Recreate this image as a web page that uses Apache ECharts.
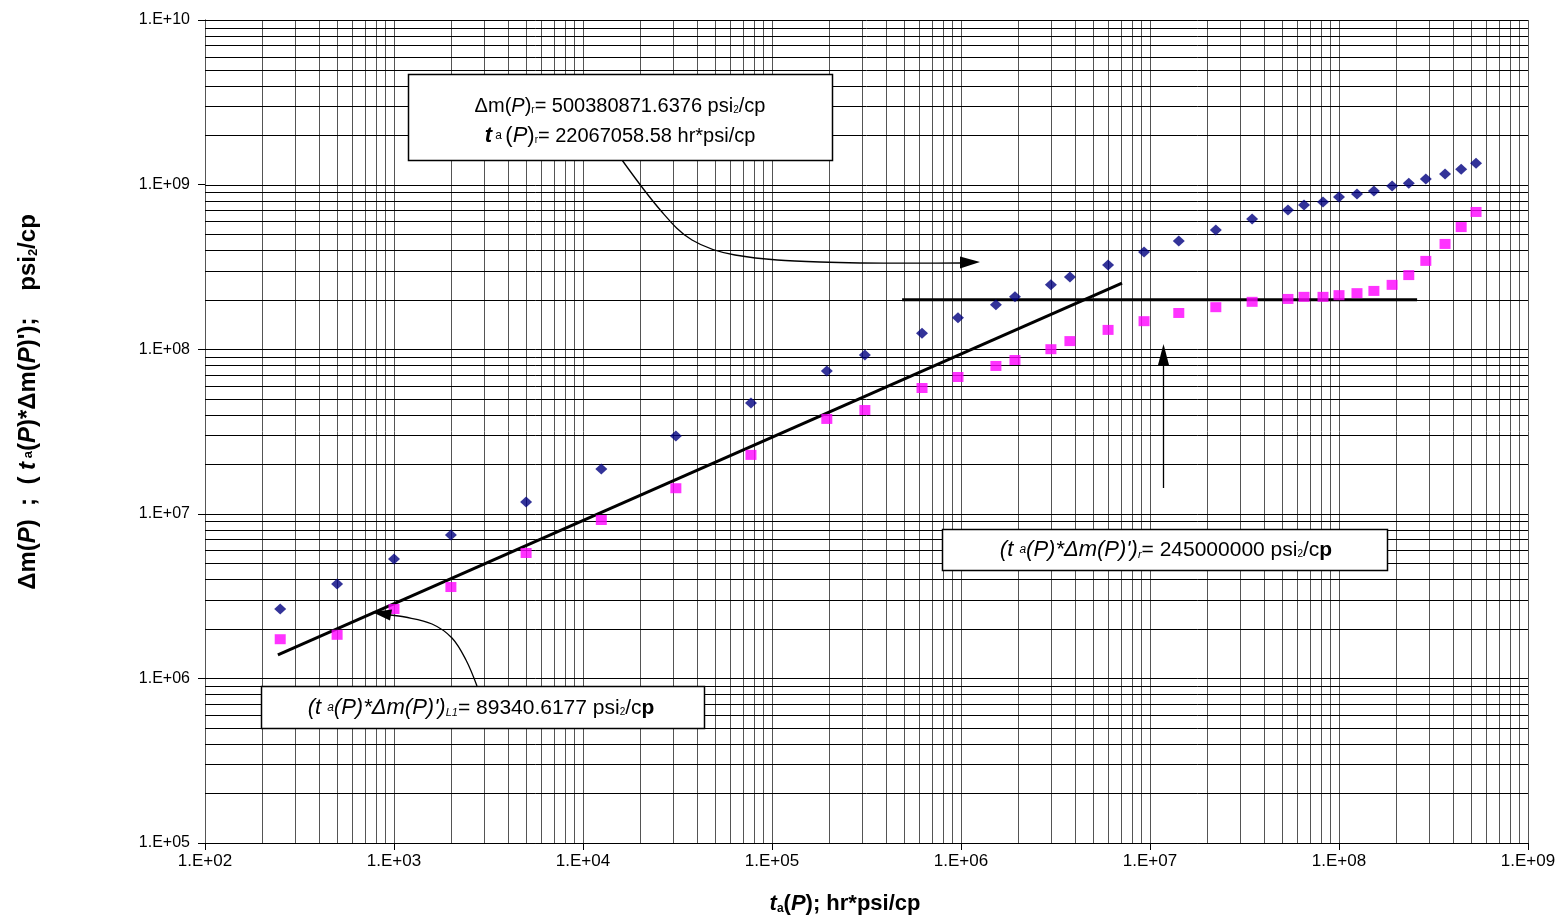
<!DOCTYPE html>
<html>
<head>
<meta charset="utf-8">
<script src="https://cdn.jsdelivr.net/npm/echarts@6/dist/echarts.min.js"></script>
<style>
html,body{margin:0;padding:0;background:#fff;}
#c{width:1568px;height:924px;}
</style>
</head>
<body>
<div id="c"></div>
<script>
// ---- data ----
const ta = [250,500,1000,2000,5000,12500,31000,77400,195000,310000,622000,964000,1.53e6,1.93e6,2.99e6,3.77e6,6.0e6,9.3e6,1.42e7,2.23e7,3.47e7,5.37e7,6.53e7,8.23e7,1.0e8,1.245e8,1.53e8,1.91e8,2.34e8,2.88e8,3.64e8,4.43e8,5.31e8];
const dmP = [2.64e6,3.74e6,5.31e6,7.43e6,1.18e7,1.87e7,2.97e7,4.71e7,7.38e7,9.23e7,1.25e8,1.55e8,1.86e8,2.08e8,2.46e8,2.75e8,3.25e8,3.90e8,4.54e8,5.30e8,6.18e8,7.01e8,7.52e8,7.84e8,8.41e8,8.77e8,9.15e8,9.82e8,1.02e9,1.08e9,1.16e9,1.24e9,1.35e9];
const deriv = [1.73e6,1.84e6,2.64e6,3.59e6,5.78e6,9.17e6,1.43e7,2.28e7,3.77e7,4.27e7,5.81e7,6.78e7,7.91e7,8.60e7,1.00e8,1.12e8,1.31e8,1.48e8,1.66e8,1.80e8,1.94e8,2.02e8,2.08e8,2.08e8,2.13e8,2.19e8,2.26e8,2.46e8,2.82e8,3.44e8,4.36e8,5.52e8,6.82e8];
const slopeLineX = [243, 7.11e6];
const slopeLineY = [1.39e6, 2.52e8];
const radialLineX = [4.88e5, 2.59e8];
const radialLineY = [2.0e8, 2.0e8];
const X_MIN = 1e2, X_MAX = 1e9, Y_MIN = 1e5, Y_MAX = 1e10;

// gridline values (decades with 2..9 subdivisions)
function logGrid(lo, hi){
  const out = [];
  for (let e = Math.round(Math.log10(lo)); e < Math.round(Math.log10(hi)); e++){
    for (let m = 1; m <= 9; m++) out.push(m * Math.pow(10, e));
  }
  out.push(hi);
  return out;
}
const xGrid = logGrid(X_MIN, X_MAX);
const yGrid = logGrid(Y_MIN, Y_MAX);

const FONT = 'Liberation Sans, Arial, sans-serif';
function expLabel(v){
  const e = Math.round(Math.log10(v));
  return '1.E+' + (e < 10 ? '0' + e : e);
}

function gridSeries(vals, vertical, color){
  return {
    type: 'custom', silent: true, z: 1, clip: false,
    data: vals.map(v => vertical ? [v, Y_MIN] : [X_MIN, v]),
    renderItem: function(params, api){
      const v = api.value(vertical ? 0 : 1);
      const a = vertical ? api.coord([v, Y_MIN]) : api.coord([X_MIN, v]);
      const b = vertical ? api.coord([v, Y_MAX]) : api.coord([X_MAX, v]);
      let x1=a[0], y1=a[1], x2=b[0], y2=b[1];
      if (vertical){ x1 = x2 = Math.round(x1) + 0.5; }
      else { y1 = y2 = Math.round(y1) + 0.5; }
      return { type: 'line', shape: {x1, y1, x2, y2}, style: {stroke: color, lineWidth: 1} };
    }
  };
}

const chart = echarts.init(document.getElementById('c'));
const option = {
  animation: false,
  backgroundColor: '#fff',
  grid: { left: 205, right: 40, top: 20, bottom: 81, containLabel: false },
  xAxis: {
    type: 'log', logBase: 10, min: X_MIN, max: X_MAX, splitNumber: 7,
    axisLine: { show: true, lineStyle: { color: '#000', width: 1 } },
    axisTick: { show: true, inside: false, length: 7, lineStyle: { color: '#000' } },
    axisLabel: { formatter: expLabel, color: '#000', fontFamily: FONT, fontSize: 17, margin: 10 },
    splitLine: { show: false }, minorTick: { show: false }
  },
  yAxis: {
    type: 'log', logBase: 10, min: Y_MIN, max: Y_MAX, splitNumber: 5,
    axisLine: { show: true, lineStyle: { color: '#000', width: 1 } },
    axisTick: { show: true, inside: false, length: 7, lineStyle: { color: '#000' } },
    axisLabel: { formatter: expLabel, color: '#000', fontFamily: FONT, fontSize: 16, margin: 15 },
    splitLine: { show: false }
  },
  series: [
    gridSeries(xGrid, true, '#555'),
    gridSeries(yGrid, false, '#000'),
    {
      type: 'line', z: 3, silent: true, symbol: 'none',
      data: slopeLineX.map((x, i) => [x, slopeLineY[i]]),
      lineStyle: { color: '#000', width: 3 }
    },
    {
      type: 'line', z: 3, silent: true, symbol: 'none',
      data: radialLineX.map((x, i) => [x, radialLineY[i]]),
      lineStyle: { color: '#000', width: 3 }
    },
    {
      name: 'dm(P)', type: 'scatter', z: 4, symbol: 'diamond', symbolSize: [12, 11],
      itemStyle: { color: '#000080' },
      data: ta.map((x, i) => [x, dmP[i]])
    },
    {
      name: 'derivative', type: 'scatter', z: 4, symbol: 'rect', symbolSize: [11, 10],
      itemStyle: { color: '#FF00FF' },
      data: ta.map((x, i) => [x, deriv[i]])
    }
  ]
};
chart.setOption(option);

// ---- annotations ----
const base = { fontFamily: FONT, fill: '#000' };
function rs(size, extra){ return Object.assign({}, base, { fontSize: size }, extra || {}); }

const box1Rich = {
  n: rs(20, {lineHeight: 30}), i: rs(20, {fontStyle: 'italic', lineHeight: 30}),
  bi: rs(22, {fontStyle: 'italic', fontWeight: 'bold', lineHeight: 30}),
  s: rs(10, {lineHeight: 12, padding: [9, 0, 0, 0]}),
  a: rs(12, {lineHeight: 30}), p: rs(22, {lineHeight: 30}), pi: rs(22, {fontStyle: 'italic', lineHeight: 30})
};
const box2Rich = {
  n: rs(21), i: rs(22, {fontStyle: 'italic'}),
  si: rs(12, {fontStyle: 'italic'}),
  sub: rs(11, {fontStyle: 'italic', lineHeight: 12, padding: [10, 0, 0, 0]}),
  s: rs(10, {lineHeight: 12, padding: [9, 0, 0, 0]}),
  b: rs(21, {fontWeight: 'bold'})
};
const titleRich = {
  b: rs(22, {fontWeight: 'bold'}),
  bi: rs(22, {fontWeight: 'bold', fontStyle: 'italic'}),
  s: rs(12, {fontWeight: 'bold'}),
  sb: rs(12, {fontWeight: 'bold', lineHeight: 13, padding: [9, 0, 0, 0]})
};
const yTitleRich = {
  b: rs(24, {fontWeight: 'bold'}),
  bi: rs(24, {fontWeight: 'bold', fontStyle: 'italic'}),
  s: rs(13, {fontWeight: 'bold'}),
  sb: rs(13, {fontWeight: 'bold', lineHeight: 14, padding: [10, 0, 0, 0]})
};

function box(x, y, w, h){
  return { type: 'rect', z: 20, shape: { x: x + 0.5, y: y + 0.5, width: w, height: h },
    style: { fill: '#fff', stroke: '#000', lineWidth: 1.5 } };
}

const graphics = [
  // box 1
  box(408, 74, 424, 86),
  { type: 'text', z: 21, x: 620, y: 121, style: {
      text: '{n|Δm(}{i|P}{n|)}{s|r}{n|= 500380871.6376 psi}{s|2}{n|/cp}\n{bi|t}{a| a }{p|(}{pi|P}{p|)}{s|r}{n|= 22067058.58 hr*psi/cp}',
      rich: box1Rich, align: 'center', verticalAlign: 'middle', fontFamily: FONT, fill: '#000' } },
  // arrow 1 (to Δm(P)r)
  { type: 'polyline', z: 19, shape: { points: [[622,160],[662,212],[692,240],[735,255],[820,262],[962,263]], smooth: 0.35 },
    style: { stroke: '#000', lineWidth: 1.3, fill: null } },
  { type: 'polygon', z: 19, shape: { points: [[980,262],[960,256.5],[960,268.5]] }, style: { fill: '#000' } },
  // box 2
  box(942, 529, 445, 41),
  { type: 'text', z: 21, x: 1166, y: 550, style: {
      text: '{i|(t }{si|a}{i|(P)*Δm(P)\')}{sub|r}{n|= 245000000 psi}{s|2}{n|/c}{b|p}',
      rich: box2Rich, align: 'center', verticalAlign: 'middle', fontFamily: FONT, fill: '#000' } },
  // arrow 2 (vertical)
  { type: 'line', z: 19, shape: { x1: 1163.5, y1: 488, x2: 1163.5, y2: 362 }, style: { stroke: '#000', lineWidth: 1.3 } },
  { type: 'polygon', z: 19, shape: { points: [[1163.5,344],[1158,365],[1169,365]] }, style: { fill: '#000' } },
  // box 3
  box(261, 686, 443, 42),
  { type: 'text', z: 21, x: 481, y: 708, style: {
      text: '{i|(t }{si|a}{i|(P)*Δm(P)\')}{sub|L1}{n|= 89340.6177 psi}{s|2}{n|/c}{b|p}',
      rich: box2Rich, align: 'center', verticalAlign: 'middle', fontFamily: FONT, fill: '#000' } },
  // arrow 3
  { type: 'polyline', z: 19, shape: { points: [[477,686],[466,660],[452,638],[432,624],[405,617],[390,615]], smooth: 0.35 },
    style: { stroke: '#000', lineWidth: 1.3, fill: null } },
  { type: 'polygon', z: 19, shape: { points: [[372,612],[392,609.5],[390,620.5]] }, style: { fill: '#000' } },
  // axis titles
  { type: 'text', z: 21, x: 845, y: 904, style: {
      text: '{bi|t}{sb|a}{b|(}{bi|P}{b|); hr*psi/cp}',
      rich: titleRich, align: 'center', verticalAlign: 'middle', fontFamily: FONT, fill: '#000' } },
  { type: 'text', z: 21, x: 28, y: 402, rotation: Math.PI / 2, style: {
      text: '{b|Δm(}{bi|P}{b|)  ;  ( }{bi|t}{s| a}{b|(}{bi|P}{b|)*Δm(}{bi|P}{b|)\');    psi}{sb|2}{b|/cp}',
      rich: yTitleRich, align: 'center', verticalAlign: 'middle', fontFamily: FONT, fill: '#000' } }
];
chart.setOption({ graphic: graphics });
</script>
</body>
</html>
